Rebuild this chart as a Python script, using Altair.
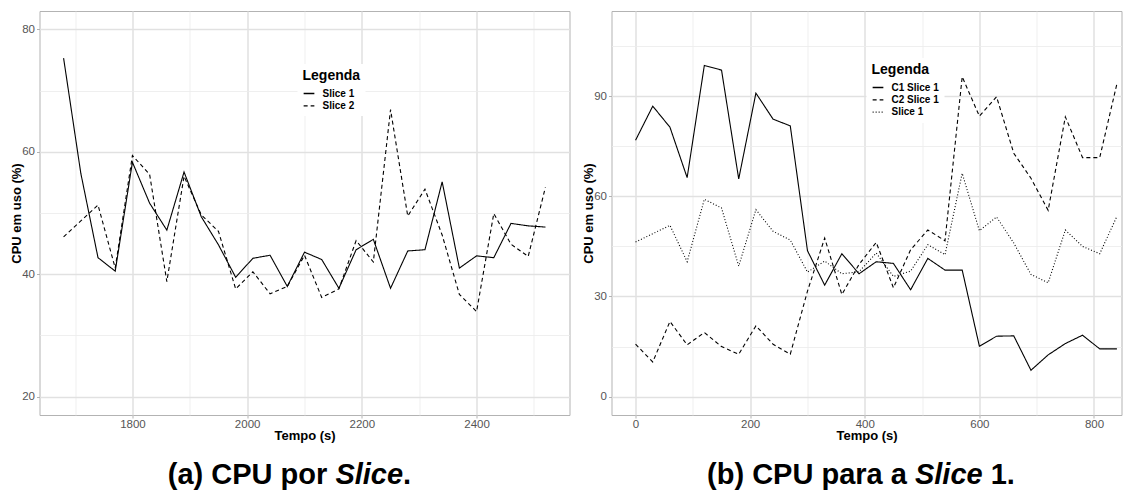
import altair as alt
import pandas as pd

FONT = "Liberation Sans"

# ---------------- data ----------------
left_time = [1680, 1710, 1740, 1770, 1800, 1830, 1860, 1890, 1920, 1950,
             1980, 2010, 2040, 2070, 2100, 2130, 2160, 2190, 2220, 2250,
             2280, 2310, 2340, 2370, 2400, 2430, 2460, 2490, 2520]
left_slice1 = [75.3, 56.5, 42.7, 40.5, 58.3, 51.6, 47.2, 56.7, 49.4, 44.8,
               39.5, 42.6, 43.1, 38.0, 43.6, 42.4, 37.7, 44.0, 45.7, 37.7,
               43.8, 44.0, 55.1, 41.0, 43.0, 42.7, 48.3, 47.9, 47.7]
left_slice2 = [46.1, 48.7, 51.3, 41.0, 59.4, 56.3, 38.8, 56.0, 49.7, 47.0,
               37.6, 40.4, 36.8, 38.0, 43.1, 36.2, 37.6, 45.5, 42.0, 66.9,
               49.5, 53.9, 46.4, 36.7, 33.9, 49.9, 44.9, 42.9, 54.2]

right_time = [0, 30, 60, 90, 120, 150, 180, 210, 240, 270,
              300, 330, 360, 390, 420, 450, 480, 510, 540, 570,
              600, 630, 660, 690, 720, 750, 780, 810, 840]
right_c1 = [76.8, 87.0, 80.7, 65.6, 99.2, 97.8, 65.2, 90.9, 83.1, 81.1,
            43.7, 33.4, 42.8, 36.8, 40.4, 39.9, 32.0, 41.4, 37.9, 37.9,
            15.1, 18.1, 18.2, 7.9, 12.5, 15.9, 18.4, 14.3, 14.3]
right_c2 = [15.7, 10.4, 22.5, 15.5, 19.2, 15.0, 12.7, 21.2, 15.7, 12.7,
            31.6, 47.5, 30.6, 39.6, 46.2, 32.6, 44.0, 49.9, 46.7, 95.8,
            84.0, 89.8, 72.9, 65.4, 55.8, 83.8, 71.6, 71.6, 93.7]
right_slice1 = [46.3, 48.8, 51.3, 40.4, 59.1, 56.5, 39.1, 56.0, 49.5, 46.9,
                37.3, 40.6, 36.8, 37.4, 43.0, 36.0, 37.6, 45.5, 42.5, 66.9,
                49.7, 53.8, 46.0, 36.6, 34.1, 49.9, 45.0, 42.8, 54.0]

left_names = ["Slice 1", "Slice 2"]
right_names = ["C1 Slice 1", "C2 Slice 1", "Slice 1"]

left_x_ticks = [1700, 1800, 1900, 2000, 2100, 2200, 2300, 2400, 2500]
left_y_ticks = [20, 30, 40, 50, 60, 70, 80]
right_x_ticks = [0, 100, 200, 300, 400, 500, 600, 700, 800]
right_y_ticks = [0, 15, 30, 45, 60, 75, 90, 105]

# (text, style, leading gap in em)
caption_a = [("(a) CPU por", "normal", 0.0), ("Slice", "italic", 0.278), (".", "normal", 0.0)]
caption_b = [("(b) CPU para a", "normal", 0.0), ("Slice", "italic", 0.278), ("1.", "normal", 0.278)]

x_title = "Tempo (s)"
y_title = "CPU em uso (%)"
legend_title = "Legenda"

# ---------------- helpers ----------------
ARIAL_BOLD = {'(': .333, ')': .333, ' ': .278, '.': .278,
              'a': .556, 'b': .611, 'c': .556, 'e': .556, 'i': .278, 'l': .278,
              'o': .611, 'p': .611, 'r': .389, 'C': .722, 'P': .667, 'U': .722,
              'S': .667, '1': .556}


def long_df(times, series, names):
    rows = []
    for vals, name in zip(series, names):
        for t, v in zip(times, vals):
            rows.append({"t": t, "v": v, "s": name})
    return pd.DataFrame(rows)


def axis(values, test, title, orient):
    return alt.Axis(
        values=values, title=title, format="d",
        labelExpr=f"({test}) ? datum.label : ''",
        labelOverlap=False, labelFlush=False,
        gridColor={"condition": {"test": test, "value": "#e1e1e1"}, "value": "#ebebeb"},
        gridWidth={"condition": {"test": test, "value": 1.5}, "value": 0.8},
        tickOpacity={"condition": {"test": test, "value": 1}, "value": 0},
        tickColor="#b3b3b3", tickSize=3, tickWidth=1, domain=False,
        labelFont=FONT, labelFontSize=11.5, labelColor="#555555",
        labelPadding=0 if orient == "bottom" else 2,
        titleFont=FONT, titleFontSize=13, titleFontWeight="bold", titleColor="black",
        titlePadding=0 if orient == "bottom" else -1.5,
    )


def caption(parts, center, base_y, fs=29):
    gaps = [g * fs for _, _, g in parts]
    widths = [sum(ARIAL_BOLD.get(ch, .556) for ch in txt) * fs for txt, _, _ in parts]
    x = center - (sum(widths) + sum(gaps)) / 2
    layers = []
    for (txt, style, _), w, g in zip(parts, widths, gaps):
        x += g
        layers.append(
            alt.Chart(pd.DataFrame({"c": [txt]})).mark_text(
                align="left", baseline="alphabetic", font=FONT, fontSize=fs,
                fontWeight="bold", fontStyle=style, color="black"
            ).encode(x=alt.value(x), y=alt.value(base_y), text="c:N")
        )
        x += w
    return layers


def panel(df, names, dashes, xdom, ydom, xvals, yvals, xtest, ytest,
          w, h, legx, legy, cap_parts, cap_center):
    lines = alt.Chart(df).mark_line(color="black", strokeWidth=1.1).encode(
        x=alt.X("t:Q", scale=alt.Scale(domain=xdom, nice=False, zero=False),
                axis=axis(xvals, xtest, x_title, "bottom")),
        y=alt.Y("v:Q", scale=alt.Scale(domain=ydom, nice=False, zero=False),
                axis=axis(yvals, ytest, y_title, "left")),
        strokeDash=alt.StrokeDash(
            "s:N", scale=alt.Scale(domain=names, range=dashes),
            legend=alt.Legend(
                orient="none", legendX=legx, legendY=legy, title=legend_title,
                titleFont=FONT, titleFontSize=14, titleFontWeight="bold",
                titleColor="black", titlePadding=4,
                labelFont=FONT, labelFontSize=10, labelFontWeight="bold",
                labelColor="black", labelOffset=7,
                symbolType="stroke", symbolSize=115, symbolStrokeWidth=1.3,
                symbolStrokeColor="black", rowPadding=0.3,
                fillColor="white", padding=5,
            ),
        ),
    )
    return alt.layer(lines, *caption(cap_parts, cap_center, 473)).properties(
        width=w, height=h)


left_df = long_df(left_time, [left_slice1, left_slice2], left_names)
right_df = long_df(right_time, [right_c1, right_c2, right_slice1], right_names)

left = panel(left_df, left_names, [[1, 0], [4, 3]], [1638, 2562], [17, 83],
             left_x_ticks, left_y_ticks, "datum.value % 200 === 0",
             "datum.value % 20 === 0", 530, 404, 258, 53, caption_a, 250)
right = panel(right_df, right_names, [[1, 0], [4, 3], [1, 2]], [-42, 848],
              [-5.5, 115.5], right_x_ticks, right_y_ticks,
              "datum.value % 200 === 0", "datum.value % 30 === 0",
              510, 404, 255, 47, caption_b, 249.5)

chart = alt.hconcat(left, right, spacing=11).resolve_scale(
    strokeDash="independent").resolve_legend(strokeDash="independent").properties(
    padding={"left": 1.5, "top": 2, "right": 0, "bottom": 0},
    background="white",
).configure_view(stroke="#b3b3b3", strokeWidth=1)

chart.save("out.html", embed_options={"renderer": "svg", "actions": False})
